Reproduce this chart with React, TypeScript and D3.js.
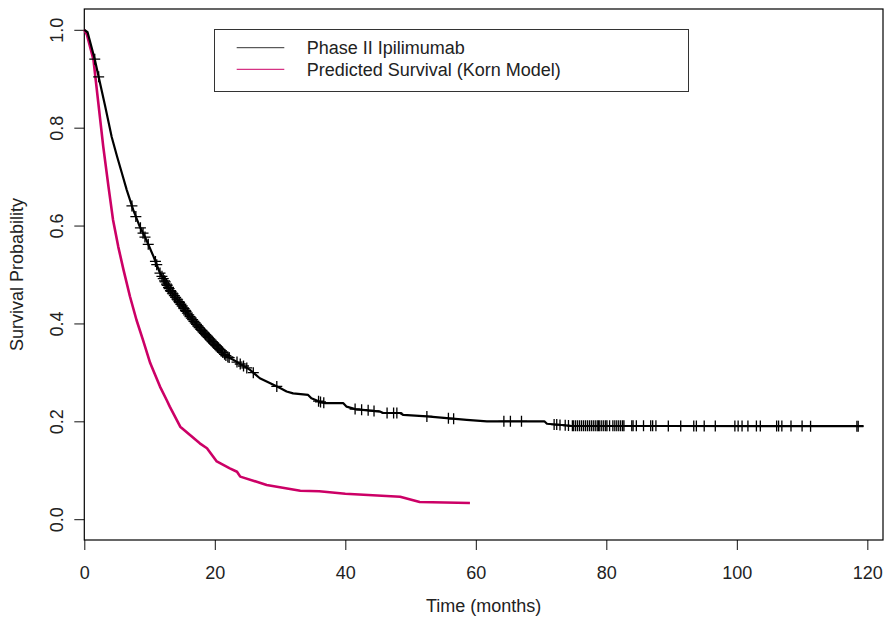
import React, { useEffect, useRef } from 'react';
import * as d3 from 'd3';

// Kaplan-Meier estimate, phase II ipilimumab (months, survival)
const ipilimumabKM: [number, number][] = [
  [0, 1.0], [0.5, 0.995], [0.9, 0.975], [1.6, 0.94], [2.4, 0.892], [3.2, 0.844],
  [4.2, 0.781], [5.0, 0.742], [5.7, 0.71], [6.5, 0.673], [7.5, 0.632], [8.5, 0.598],
  [9.5, 0.571], [10.6, 0.537], [11.6, 0.503], [13.1, 0.469], [14.7, 0.441], [16.2, 0.414],
  [17.7, 0.39], [19.8, 0.36], [21.8, 0.333], [22.8, 0.326], [25.4, 0.305], [26.9, 0.288],
  [28.5, 0.278], [30.0, 0.268], [31.0, 0.261], [32.0, 0.257], [34.3, 0.254], [34.8, 0.247],
  [36.1, 0.24], [36.9, 0.237], [39.7, 0.237], [40.2, 0.23], [41.5, 0.225], [45.3, 0.22],
  [45.8, 0.217], [48.4, 0.217], [48.9, 0.213], [52.5, 0.21], [58.6, 0.203], [61.7, 0.2],
  [70.5, 0.2], [70.9, 0.195], [74.4, 0.191], [119.4, 0.19],
];

// predicted survival from the Korn model
const kornPredicted: [number, number][] = [
  [0, 1.0], [0.4, 0.99], [1.4, 0.939], [2.15, 0.85], [2.9, 0.762], [3.7, 0.68],
  [4.4, 0.612], [5.2, 0.557], [6.0, 0.51], [7.0, 0.455], [8.0, 0.407], [9.0, 0.366],
  [10.1, 0.319], [11.6, 0.271], [12.6, 0.244], [13.1, 0.23], [14.7, 0.189], [16.2, 0.172],
  [17.7, 0.155], [18.8, 0.145], [20.3, 0.118], [22.3, 0.104], [23.4, 0.097], [23.9, 0.087],
  [27.95, 0.07], [33.1, 0.058], [36.0, 0.057], [40.0, 0.052], [48.4, 0.046], [51.4, 0.035],
  [59.1, 0.033],
];

// censored observations on the KM curve (months)
const censorTimes = [
  1.6, 2.2, 7.3, 7.9, 8.6, 9.0, 9.3, 9.8, 10.9, 11.1, 11.6, 11.9, 12.1, 12.3, 12.4, 12.6,
  12.7, 12.9, 13.0, 13.2, 13.3, 13.5, 13.6, 13.8, 14.0, 14.2, 14.3, 14.5, 14.6, 14.8, 15.0,
  15.2, 15.3, 15.5, 15.6, 15.8, 16.0, 16.2, 16.4, 16.6, 16.8, 17.0, 17.2, 17.4, 17.6, 17.8,
  18.0, 18.2, 18.4, 18.6, 18.8, 19.0, 19.2, 19.4, 19.6, 19.8, 20.0, 20.2, 20.4, 20.6, 20.8,
  21.0, 21.2, 21.5, 21.7, 22.0, 22.2, 23.4, 23.9, 24.4, 24.9, 25.9, 29.5, 35.9, 36.2,
  36.7, 41.5, 42.5, 43.5, 44.4, 46.4, 47.4, 47.9, 52.5, 55.8, 56.6, 64.3, 65.3, 67.0, 72.0,
  72.4, 72.9, 73.7, 74.2, 74.8, 75.0, 75.3, 75.6, 75.9, 76.2, 76.5, 76.8, 77.1, 77.4, 77.7,
  78.0, 78.3, 78.6, 78.8, 79.0, 79.3, 79.6, 79.9, 80.1, 80.5, 81.0, 81.3, 81.6, 81.9, 82.2,
  82.5, 82.7, 83.9, 84.1, 84.6, 85.7, 86.8, 87.1, 87.6, 89.5, 91.4, 93.4, 93.8, 95.0, 96.7,
  99.7, 100.2, 100.8, 101.7, 103.0, 103.6, 106.1, 106.4, 106.9, 108.3, 110.0, 111.3, 118.4,
  118.6,
];

const xTicks = [0, 20, 40, 60, 80, 100, 120];
const yTicks = [0, 0.2, 0.4, 0.6, 0.8, 1.0];
const seriesNames = ['Phase II Ipilimumab', 'Predicted Survival (Korn Model)'];
const seriesColors = ['#000000', '#cc0066'];

const W = 884;
const H = 619;
const FONT = '"Liberation Sans", Arial, sans-serif';
const TEXT = '#222';

// linear interpolation on the KM curve, to place the censor marks
function survivalAt(t: number) {
  const i = d3.bisector((d: [number, number]) => d[0]).right(ipilimumabKM, t);
  if (i <= 0) return ipilimumabKM[0][1];
  if (i >= ipilimumabKM.length) return ipilimumabKM[ipilimumabKM.length - 1][1];
  const [t0, s0] = ipilimumabKM[i - 1];
  const [t1, s1] = ipilimumabKM[i];
  return s0 + (s1 - s0) * (t - t0) / (t1 - t0);
}

export default function App() {
  const ref = useRef<SVGSVGElement>(null);

  useEffect(() => {
    const svg = d3.select(ref.current);
    svg.selectAll('*').remove();

    const box = { left: 84.3, right: 883, top: 9, bottom: 540 };
    const x = d3.scaleLinear().domain([0, 122.4]).range([box.left, box.right]);
    const y = d3.scaleLinear().domain([-0.0425, 1.0425]).range([box.bottom, box.top]);

    // x axis
    const gx = svg.append('g')
      .attr('transform', `translate(0, ${box.bottom})`)
      .call(d3.axisBottom(x).tickValues(xTicks).tickSize(10).tickSizeOuter(0).tickFormat(d3.format('d')));
    gx.select('.domain').remove();
    gx.selectAll('line').attr('stroke', '#111');
    gx.selectAll('text')
      .attr('y', 39).attr('dy', null)
      .attr('fill', TEXT)
      .style('font-family', FONT).style('font-size', '18px');

    // y axis
    const gy = svg.append('g')
      .attr('transform', `translate(${box.left}, 0)`)
      .call(d3.axisLeft(y).tickValues(yTicks).tickSize(10).tickSizeOuter(0).tickFormat(d3.format('.1f')));
    gy.select('.domain').remove();
    gy.selectAll('line').attr('stroke', '#111');
    gy.selectAll('text')
      .attr('x', null).attr('dy', null)
      .attr('text-anchor', 'middle')
      .attr('transform', 'translate(-21, 0) rotate(-90)')
      .attr('fill', TEXT)
      .style('font-family', FONT).style('font-size', '18px');

    // plot box
    svg.append('rect')
      .attr('x', box.left).attr('y', box.top)
      .attr('width', box.right - box.left).attr('height', box.bottom - box.top)
      .attr('fill', 'none').attr('stroke', '#000').attr('stroke-width', 1.2);

    const line = d3.line<[number, number]>().x(d => x(d[0])).y(d => y(d[1]));

    svg.append('path')
      .datum(kornPredicted)
      .attr('d', line)
      .attr('fill', 'none')
      .attr('stroke', seriesColors[1])
      .attr('stroke-width', 2.6)
      .attr('stroke-linejoin', 'round');

    svg.append('path')
      .datum(ipilimumabKM)
      .attr('d', line)
      .attr('fill', 'none')
      .attr('stroke', seriesColors[0])
      .attr('stroke-width', 2.2)
      .attr('stroke-linejoin', 'round');

    // censor marks (+)
    const arm = 5.5;
    svg.append('g')
      .selectAll('path')
      .data(censorTimes)
      .join('path')
      .attr('d', t => {
        const cx = x(t), cy = y(survivalAt(t));
        return `M${cx - arm},${cy}H${cx + arm}M${cx},${cy - arm}V${cy + arm}`;
      })
      .attr('stroke', '#000')
      .attr('stroke-width', 1.3)
      .attr('fill', 'none');

    // axis titles
    svg.append('text')
      .attr('x', (box.left + box.right) / 2).attr('y', 612)
      .attr('text-anchor', 'middle')
      .attr('fill', TEXT)
      .style('font-family', FONT).style('font-size', '18px')
      .text('Time (months)');

    svg.append('text')
      .attr('transform', `translate(23, ${(box.top + box.bottom) / 2}) rotate(-90)`)
      .attr('text-anchor', 'middle')
      .attr('fill', TEXT)
      .style('font-family', FONT).style('font-size', '18px')
      .text('Survival Probability');

    // legend
    const legend = svg.append('g');
    legend.append('rect')
      .attr('x', 214.5).attr('y', 29.5).attr('width', 474).attr('height', 62)
      .attr('fill', '#fff').attr('stroke', '#333').attr('stroke-width', 1);

    const rows = legend.selectAll('g.row')
      .data(seriesNames)
      .join('g')
      .attr('class', 'row')
      .attr('transform', (_, i) => `translate(0, ${47.7 + i * 21.6})`);
    rows.append('line')
      .attr('x1', 236.7).attr('x2', 284.3)
      .attr('stroke', (_, i) => (i === 0 ? '#333' : seriesColors[1]))
      .attr('stroke-width', 1);
    rows.append('text')
      .attr('x', 306.7).attr('y', 6.5)
      .attr('fill', TEXT)
      .style('font-family', FONT).style('font-size', '18px')
      .text(d => d);
  }, []);

  return (
    <svg ref={ref} width={W} height={H}
      style={{ position: 'absolute', left: 0, top: 0, background: '#fff' }} />
  );
}
